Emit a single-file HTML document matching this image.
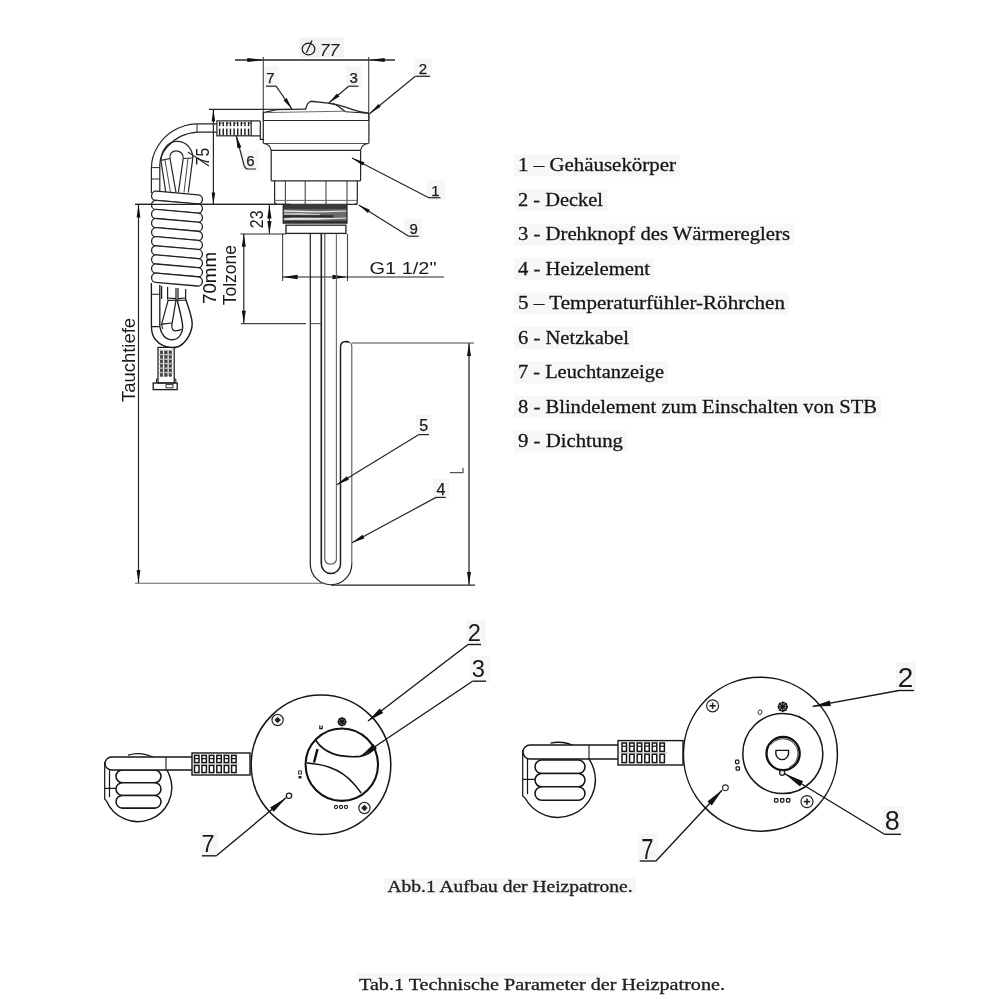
<!DOCTYPE html>
<html><head><meta charset="utf-8"><title>Heizpatrone</title>
<style>
html,body{margin:0;padding:0;background:#fff;}
body{width:1000px;height:1000px;overflow:hidden;font-family:"Liberation Sans",sans-serif;}
svg{display:block;filter:grayscale(1);}
</style></head><body>
<svg width="1000" height="1000" viewBox="0 0 1000 1000">
<rect width="1000" height="1000" fill="#ffffff"/>
<rect x="263" y="66" width="16" height="22" fill="#f6f6f6"/>
<rect x="346" y="66" width="16" height="22" fill="#f6f6f6"/>
<rect x="414" y="58" width="18" height="20" fill="#f6f6f6"/>
<rect x="427" y="180" width="18" height="20" fill="#f6f6f6"/>
<rect x="404" y="219" width="18" height="20" fill="#f6f6f6"/>
<rect x="242" y="150" width="17" height="21" fill="#f6f6f6"/>
<rect x="416" y="415" width="16" height="21" fill="#f6f6f6"/>
<rect x="433" y="479" width="16" height="20" fill="#f6f6f6"/>
<rect x="466" y="620" width="20" height="26" fill="#f6f6f6"/>
<rect x="470" y="656" width="20" height="26" fill="#f6f6f6"/>
<rect x="200" y="832" width="18" height="26" fill="#f6f6f6"/>
<rect x="896" y="662" width="20" height="30" fill="#f6f6f6"/>
<rect x="882" y="806" width="22" height="30" fill="#f6f6f6"/>
<rect x="638" y="834" width="20" height="28" fill="#f6f6f6"/>
<rect x="299.5" y="37.5" width="44.5" height="20" fill="#f2f2f2"/>
<line x1="235" y1="60" x2="395" y2="60" stroke="#262626" stroke-width="1.34" />
<polygon points="263.30,60.00 247.30,62.00 247.30,58.00" fill="#111"/>
<polygon points="368.70,60.00 384.70,58.00 384.70,62.00" fill="#111"/>
<line x1="263.3" y1="57" x2="263.3" y2="121" stroke="#444" stroke-width="1.1" />
<line x1="368.7" y1="57" x2="368.7" y2="121" stroke="#444" stroke-width="1.1" />
<text x="329.5" y="55.5" font-family="Liberation Sans, sans-serif" font-size="17.4" text-anchor="middle" font-weight="normal" fill="#1a1a1a" font-style="italic">77</text>
<g stroke="#1a1a1a" stroke-width="1.2" fill="none"><ellipse cx="308.5" cy="49" rx="6.3" ry="5.9"/><line x1="306.3" y1="53" x2="312" y2="40.5"/></g>
<path d="M209,109.4 L292,109.3" stroke="#262626" stroke-width="1.1" fill="none" />
<path d="M263.3,112.6 C268,112 272,110.2 278,109.7 L306,109.2" stroke="#262626" stroke-width="1.22" fill="none" />
<path d="M265.5,112.6 L344,111.2" stroke="#666" stroke-width="0.98" fill="none" />
<path d="M305.7,109.2 C306.5,105 308.5,102 311,101.3 L328.4,103.1 C333,103.6 336,104.6 338,106 L345.5,111.8" stroke="#262626" stroke-width="1.34" fill="none" />
<path d="M328.4,103.1 C338,104.5 346,107 353.6,109.8 C358,111.5 363,112.6 368.7,113.2" stroke="#262626" stroke-width="1.34" fill="none" />
<path d="M345.5,111.8 L368.7,113.2" stroke="#262626" stroke-width="1.1" fill="none" />
<line x1="263.3" y1="120.5" x2="368.7" y2="120.5" stroke="#262626" stroke-width="1.22" />
<path d="M263.3,112.6 L263.3,143.5 M368.9,113 L368.9,143.5" stroke="#262626" stroke-width="1.22" fill="none" />
<path d="M263.3,143.5 L368.9,143.5" stroke="#555" stroke-width="1.1" fill="none" />
<path d="M264,143.5 C268,144 270.5,146 271.2,150.3 M368,143.5 C364,144 361.3,146 360.6,150.3" stroke="#262626" stroke-width="1.22" fill="none" />
<line x1="271.2" y1="150.3" x2="360.6" y2="150.3" stroke="#262626" stroke-width="1.22" />
<path d="M271.2,150.3 L271.2,180.8 M360.6,150.3 L360.6,180.8" stroke="#262626" stroke-width="1.22" fill="none" />
<line x1="271.2" y1="180.8" x2="360.6" y2="180.8" stroke="#262626" stroke-width="1.22" />
<path d="M274.6,180.8 L274.6,202 C274.6,203.5 275.5,204.3 277,204.3 M357.3,180.8 L357.3,202 C357.3,203.5 356.4,204.3 355,204.3" stroke="#262626" stroke-width="1.22" fill="none" />
<line x1="285.4" y1="180.8" x2="285.4" y2="204.3" stroke="#444" stroke-width="1.1" />
<line x1="305.2" y1="180.8" x2="305.2" y2="204.3" stroke="#444" stroke-width="1.1" />
<line x1="326" y1="180.8" x2="326" y2="204.3" stroke="#444" stroke-width="1.1" />
<line x1="347" y1="180.8" x2="347" y2="204.3" stroke="#444" stroke-width="1.1" />
<line x1="274.6" y1="200.4" x2="357.3" y2="200.4" stroke="#666" stroke-width="0.98" />
<line x1="135" y1="204.4" x2="357.3" y2="204.4" stroke="#262626" stroke-width="1.22" />
<rect x="283.2" y="204.6" width="63.8" height="19" fill="#6a6a6a"/>
<rect x="283.2" y="204.6" width="63.8" height="4.6" fill="#3a3a3a"/>
<polygon points="283.5,210.2 318,211.3 347,210.4 347,211.6 318,212.6 283.5,211.8" fill="#e8e8e8"/>
<polygon points="283.5,213.2 300,213.2 320,214.2 320,215 283.5,214.6" fill="#dcdcdc"/>
<rect x="283.2" y="215.2" width="50" height="2.2" fill="#2c2c2c"/>
<polygon points="283.5,218.4 292,217.8 333,218 347,217.6 347,218.6 318,219.8 283.5,220" fill="#e4e4e4"/>
<rect x="283.2" y="220.8" width="63.8" height="2.8" fill="#303030"/>
<path d="M283.2,204.4 L283.2,223.7 M347,204.4 L347,223.7" stroke="#262626" stroke-width="1.22" fill="none" />
<rect x="286" y="225.2" width="59.9" height="8.2" rx="0" stroke="#262626" stroke-width="1.34" fill="none" />
<line x1="282.6" y1="233.8" x2="282.6" y2="281" stroke="#444" stroke-width="1.1" />
<line x1="347.5" y1="233.8" x2="347.5" y2="281" stroke="#444" stroke-width="1.1" />
<line x1="282.6" y1="277" x2="444" y2="277" stroke="#262626" stroke-width="1.22" />
<polygon points="282.60,277.00 297.60,274.80 297.60,279.20" fill="#111"/>
<polygon points="347.50,277.00 332.50,279.20 332.50,274.80" fill="#111"/>
<text x="369.5" y="273.8" font-family="Liberation Sans, sans-serif" font-size="17.2" text-anchor="start" font-weight="normal" fill="#1a1a1a" textLength="67" lengthAdjust="spacingAndGlyphs">G1 1/2"</text>
<line x1="310.3" y1="233.8" x2="310.3" y2="564" stroke="#222" stroke-width="1.22" />
<line x1="321.3" y1="233.8" x2="321.3" y2="564" stroke="#1c1c1c" stroke-width="1.59" />
<line x1="324.8" y1="233.8" x2="324.8" y2="559" stroke="#5a4a44" stroke-width="1.1" />
<line x1="336.4" y1="233.8" x2="336.4" y2="559" stroke="#666" stroke-width="1.1" />
<path d="M340.5,564 L340.5,347 C340.5,343 342.5,341.5 346,341.5 L349,341.8" stroke="#1c1c1c" stroke-width="1.46" fill="none" />
<path d="M346.5,342.3 C350,341.8 351.8,343 351.8,346 L351.8,564" stroke="#555" stroke-width="1.1" fill="none" />
<path d="M310.3,564 A20.75,20.75 0 0 0 351.8,564" stroke="#222" stroke-width="1.22" fill="none" />
<path d="M321.3,564 A9.6,9.6 0 0 0 340.5,564" stroke="#1c1c1c" stroke-width="1.46" fill="none" />
<path d="M324.8,559 A5,5 0 0 0 329.8,564 L331.4,564 A5,5 0 0 0 336.4,559" stroke="#444" stroke-width="1.1" fill="none" />
<line x1="352" y1="343" x2="474" y2="343" stroke="#444" stroke-width="1.1" />
<line x1="135" y1="583.2" x2="326" y2="583.2" stroke="#666" stroke-width="1.1" />
<line x1="331" y1="585.2" x2="475" y2="585.2" stroke="#262626" stroke-width="1.34" />
<line x1="469" y1="343" x2="469" y2="585" stroke="#5a4c48" stroke-width="1.59" />
<polygon points="469.00,343.00 471.00,356.00 467.00,356.00" fill="#111"/>
<polygon points="469.00,585.00 467.00,572.00 471.00,572.00" fill="#111"/>
<path d="M449.8,472.6 L463,472.6 L463,467.8" stroke="#555" stroke-width="1.22" fill="none" />
<line x1="138.5" y1="204.4" x2="138.5" y2="583" stroke="#262626" stroke-width="1.22" />
<polygon points="138.50,204.40 140.40,217.40 136.60,217.40" fill="#111"/>
<polygon points="138.50,583.00 136.60,570.00 140.40,570.00" fill="#111"/>
<text transform="translate(135,402) rotate(-90)" font-family="Liberation Sans, sans-serif" font-size="18.6" fill="#1a1a1a" textLength="84" lengthAdjust="spacingAndGlyphs">Tauchtiefe</text>
<line x1="213.4" y1="109.4" x2="213.4" y2="204.4" stroke="#262626" stroke-width="1.22" />
<polygon points="213.40,109.40 215.20,121.40 211.60,121.40" fill="#111"/>
<polygon points="213.40,204.40 211.60,192.40 215.20,192.40" fill="#111"/>
<text transform="translate(209,165.2) rotate(-90)" font-family="Liberation Sans, sans-serif" font-size="17.5" fill="#1a1a1a" textLength="17.4" lengthAdjust="spacingAndGlyphs">75</text>
<line x1="269.4" y1="204.4" x2="269.4" y2="233.7" stroke="#262626" stroke-width="1.22" />
<polygon points="269.40,205.00 271.50,218.60 267.30,218.60" fill="#111"/>
<polygon points="269.40,233.60 267.30,221.10 271.50,221.10" fill="#111"/>
<line x1="240.5" y1="234" x2="286" y2="234" stroke="#262626" stroke-width="1.22" />
<text transform="translate(262.6,228.2) rotate(-90)" font-family="Liberation Sans, sans-serif" font-size="18.5" fill="#1a1a1a" textLength="17.8" lengthAdjust="spacingAndGlyphs">23</text>
<line x1="243.8" y1="234" x2="243.8" y2="323.5" stroke="#262626" stroke-width="1.22" />
<polygon points="243.80,234.00 245.80,246.80 241.80,246.80" fill="#111"/>
<polygon points="243.80,323.30 241.80,310.70 245.80,310.70" fill="#111"/>
<line x1="241" y1="323.6" x2="306" y2="323.6" stroke="#444" stroke-width="1.1" />
<line x1="310.5" y1="323.6" x2="321" y2="323.6" stroke="#555" stroke-width="1.1" />
<text transform="translate(236.3,305.3) rotate(-90)" font-family="Liberation Sans, sans-serif" font-size="18" fill="#1a1a1a" textLength="60.4" lengthAdjust="spacingAndGlyphs">Tolzone</text>
<text transform="translate(215.8,304) rotate(-90)" font-family="Liberation Sans, sans-serif" font-size="19" fill="#151515" stroke="#151515" stroke-width="0.12" textLength="52" lengthAdjust="spacingAndGlyphs">70mm</text>
<rect x="216.9" y="120.9" width="34.3" height="14.9" rx="0" stroke="#262626" stroke-width="1.22" fill="none" />
<line x1="219.6" y1="122" x2="219.6" y2="126.2" stroke="#1a1a1a" stroke-width="1.4" />
<line x1="219.6" y1="128.6" x2="219.6" y2="135.2" stroke="#1a1a1a" stroke-width="1.4" />
<line x1="219.6" y1="123.2" x2="222.0" y2="123.2" stroke="#333" stroke-width="0.98" />
<line x1="223.22" y1="122" x2="223.22" y2="126.2" stroke="#1a1a1a" stroke-width="1.4" />
<line x1="223.22" y1="128.6" x2="223.22" y2="135.2" stroke="#1a1a1a" stroke-width="1.4" />
<line x1="226.84" y1="122" x2="226.84" y2="126.2" stroke="#1a1a1a" stroke-width="1.4" />
<line x1="226.84" y1="128.6" x2="226.84" y2="135.2" stroke="#1a1a1a" stroke-width="1.4" />
<line x1="226.84" y1="123.2" x2="229.24" y2="123.2" stroke="#333" stroke-width="0.98" />
<line x1="230.45999999999998" y1="122" x2="230.45999999999998" y2="126.2" stroke="#1a1a1a" stroke-width="1.4" />
<line x1="230.45999999999998" y1="128.6" x2="230.45999999999998" y2="135.2" stroke="#1a1a1a" stroke-width="1.4" />
<line x1="234.07999999999998" y1="122" x2="234.07999999999998" y2="126.2" stroke="#1a1a1a" stroke-width="1.4" />
<line x1="234.07999999999998" y1="128.6" x2="234.07999999999998" y2="135.2" stroke="#1a1a1a" stroke-width="1.4" />
<line x1="234.07999999999998" y1="123.2" x2="236.48" y2="123.2" stroke="#333" stroke-width="0.98" />
<line x1="237.7" y1="122" x2="237.7" y2="126.2" stroke="#1a1a1a" stroke-width="1.4" />
<line x1="237.7" y1="128.6" x2="237.7" y2="135.2" stroke="#1a1a1a" stroke-width="1.4" />
<line x1="241.32" y1="122" x2="241.32" y2="126.2" stroke="#1a1a1a" stroke-width="1.4" />
<line x1="241.32" y1="128.6" x2="241.32" y2="135.2" stroke="#1a1a1a" stroke-width="1.4" />
<line x1="241.32" y1="123.2" x2="243.72" y2="123.2" stroke="#333" stroke-width="0.98" />
<line x1="244.94" y1="122" x2="244.94" y2="126.2" stroke="#1a1a1a" stroke-width="1.4" />
<line x1="244.94" y1="128.6" x2="244.94" y2="135.2" stroke="#1a1a1a" stroke-width="1.4" />
<line x1="248.56" y1="122" x2="248.56" y2="126.2" stroke="#1a1a1a" stroke-width="1.4" />
<line x1="248.56" y1="128.6" x2="248.56" y2="135.2" stroke="#1a1a1a" stroke-width="1.4" />
<line x1="248.56" y1="123.2" x2="250.96" y2="123.2" stroke="#333" stroke-width="0.98" />
<path d="M251.2,120.9 L260.3,120.9 M251.2,135.8 L260.3,135.8 M260.3,120.9 L260.3,139.3 L263.3,139.3" stroke="#262626" stroke-width="1.22" fill="none" />
<path d="M216.8,123.8 L196.4,123.8 C180,124.5 166,133 158,146 C153,154 151.4,160 151.4,168 L151.4,193" stroke="#262626" stroke-width="1.22" fill="none" />
<path d="M216.8,132.2 L197.6,132.2 C185,133 174,139 167,147 C162,153 159.8,158 159.8,165 L159.8,192" stroke="#262626" stroke-width="1.22" fill="none" />
<line x1="197" y1="123.8" x2="197" y2="132.2" stroke="#262626" stroke-width="0.98" />
<line x1="151.4" y1="167.6" x2="159.8" y2="167.6" stroke="#262626" stroke-width="0.98" />
<line x1="151.4" y1="179" x2="159.8" y2="179" stroke="#262626" stroke-width="0.98" />
<path d="M165.8,192.5 L161,161 C161,150 168,141.4 177.2,141.4 C187,141.4 192.8,150 192.8,158 L188.3,192.5" stroke="#262626" stroke-width="1.22" fill="none" />
<path d="M176,192.5 L170,158.5 C169.5,154 172,150.8 176,150.8 C180.5,150.8 183.5,154 183.2,158.5 L178.4,192.5" stroke="#262626" stroke-width="1.22" fill="none" />
<path d="M161,160.4 L170,158.5 M183.2,158.5 L192.8,158" stroke="#262626" stroke-width="1.1" fill="none" />
<path d="M170.5,192.5 L165,160 M184,192.5 L188,158.5" stroke="#444" stroke-width="0.98" fill="none" />
<line x1="188" y1="152" x2="209" y2="166" stroke="#262626" stroke-width="1.1" />
<rect x="151.5" y="193.0" width="51" height="9.3" rx="4.6" fill="#fff" stroke="#222" stroke-width="1.3" transform="rotate(5 177 197.6)"/>
<rect x="151.5" y="202.1" width="51" height="9.3" rx="4.6" fill="#fff" stroke="#222" stroke-width="1.3" transform="rotate(5 177 206.7)"/>
<rect x="151.5" y="211.2" width="51" height="9.3" rx="4.6" fill="#fff" stroke="#222" stroke-width="1.3" transform="rotate(5 177 215.8)"/>
<rect x="151.5" y="220.3" width="51" height="9.3" rx="4.6" fill="#fff" stroke="#222" stroke-width="1.3" transform="rotate(5 177 224.9)"/>
<rect x="151.5" y="229.4" width="51" height="9.3" rx="4.6" fill="#fff" stroke="#222" stroke-width="1.3" transform="rotate(5 177 234.0)"/>
<rect x="151.5" y="238.5" width="51" height="9.3" rx="4.6" fill="#fff" stroke="#222" stroke-width="1.3" transform="rotate(5 177 243.1)"/>
<rect x="151.5" y="247.6" width="51" height="9.3" rx="4.6" fill="#fff" stroke="#222" stroke-width="1.3" transform="rotate(5 177 252.2)"/>
<rect x="151.5" y="256.7" width="51" height="9.3" rx="4.6" fill="#fff" stroke="#222" stroke-width="1.3" transform="rotate(5 177 261.3)"/>
<rect x="151.5" y="265.8" width="51" height="9.3" rx="4.6" fill="#fff" stroke="#222" stroke-width="1.3" transform="rotate(5 177 270.4)"/>
<rect x="151.5" y="274.9" width="51" height="9.3" rx="4.6" fill="#fff" stroke="#222" stroke-width="1.3" transform="rotate(5 177 279.5)"/>
<line x1="135" y1="204.4" x2="290" y2="204.4" stroke="#262626" stroke-width="1.22" />
<path d="M151.4,283 L151.4,326.6 M159.8,285 L159.8,326.6" stroke="#1c1c1c" stroke-width="1.34" fill="none" />
<path d="M151.4,294.2 L159.8,294.2 M151.4,326.6 L159.8,326.6" stroke="#1c1c1c" stroke-width="1.1" fill="none" />
<path d="M161.6,286 L161.6,299 M167.6,287 L167.6,299.5 M176,288 L176,300 M178,288 L178,300 M185.6,289 L185.6,299" stroke="#1c1c1c" stroke-width="1.22" fill="none" />
<path d="M167.6,298 L176,298.6 M178,298.6 L185.6,298 M167.6,300.4 L186,300.2" stroke="#1c1c1c" stroke-width="1.1" fill="none" />
<path d="M151.4,326.6 C151.6,333 153,337 155.6,339.8 C160,345 166,347.6 172.4,347.6 C181,347.6 187,340.5 190.4,332.6 C191.8,329 192.4,326 192.2,323 C191.5,315 188,306 185.6,299" stroke="#1c1c1c" stroke-width="1.4" fill="none" />
<path d="M159.8,326.6 C160.5,331 162,334 164,336.2 C166.5,338.8 169,339.8 172.4,339.8 C177,339.8 180.5,336 182,331.4 C182.7,329 182.8,327 182.6,325.4 C181.6,317 179,308 177.2,300.2" stroke="#1c1c1c" stroke-width="1.4" fill="none" />
<path d="M176,300.2 L171.8,325.4 C171.8,328.5 173,330.8 175.4,330.8 C177.5,330.8 179.6,330.4 181.6,329.4" stroke="#1c1c1c" stroke-width="1.22" fill="none" />
<path d="M168.2,300.2 L161.6,324.2 L171.8,323" stroke="#1c1c1c" stroke-width="1.22" fill="none" />
<path d="M161.6,324.2 C161.8,326 162.3,327.6 163,329" stroke="#1c1c1c" stroke-width="1.1" fill="none" />
<rect x="158" y="347.4" width="16.2" height="35.6" rx="0" stroke="#1c1c1c" stroke-width="1.22" fill="none" />
<rect x="160.2" y="351.0" width="2.6" height="2.8" fill="#444" stroke="#333" stroke-width="0.5"/>
<rect x="164.6" y="351.0" width="2.6" height="2.8" fill="#444" stroke="#333" stroke-width="0.5"/>
<rect x="169.0" y="351.0" width="2.6" height="2.8" fill="#444" stroke="#333" stroke-width="0.5"/>
<line x1="159" y1="350.2" x2="173" y2="350.2" stroke="#888" stroke-width="0.61" />
<rect x="160.2" y="355.5" width="2.6" height="2.8" fill="#444" stroke="#333" stroke-width="0.5"/>
<rect x="164.6" y="355.5" width="2.6" height="2.8" fill="#444" stroke="#333" stroke-width="0.5"/>
<rect x="169.0" y="355.5" width="2.6" height="2.8" fill="#444" stroke="#333" stroke-width="0.5"/>
<line x1="159" y1="354.7" x2="173" y2="354.7" stroke="#888" stroke-width="0.61" />
<rect x="160.2" y="360.0" width="2.6" height="2.8" fill="#444" stroke="#333" stroke-width="0.5"/>
<rect x="164.6" y="360.0" width="2.6" height="2.8" fill="#444" stroke="#333" stroke-width="0.5"/>
<rect x="169.0" y="360.0" width="2.6" height="2.8" fill="#444" stroke="#333" stroke-width="0.5"/>
<line x1="159" y1="359.2" x2="173" y2="359.2" stroke="#888" stroke-width="0.61" />
<rect x="160.2" y="364.5" width="2.6" height="2.8" fill="#444" stroke="#333" stroke-width="0.5"/>
<rect x="164.6" y="364.5" width="2.6" height="2.8" fill="#444" stroke="#333" stroke-width="0.5"/>
<rect x="169.0" y="364.5" width="2.6" height="2.8" fill="#444" stroke="#333" stroke-width="0.5"/>
<line x1="159" y1="363.7" x2="173" y2="363.7" stroke="#888" stroke-width="0.61" />
<rect x="160.2" y="369.0" width="2.6" height="2.8" fill="#444" stroke="#333" stroke-width="0.5"/>
<rect x="164.6" y="369.0" width="2.6" height="2.8" fill="#444" stroke="#333" stroke-width="0.5"/>
<rect x="169.0" y="369.0" width="2.6" height="2.8" fill="#444" stroke="#333" stroke-width="0.5"/>
<line x1="159" y1="368.2" x2="173" y2="368.2" stroke="#888" stroke-width="0.61" />
<rect x="160.2" y="373.5" width="2.6" height="2.8" fill="#444" stroke="#333" stroke-width="0.5"/>
<rect x="164.6" y="373.5" width="2.6" height="2.8" fill="#444" stroke="#333" stroke-width="0.5"/>
<rect x="169.0" y="373.5" width="2.6" height="2.8" fill="#444" stroke="#333" stroke-width="0.5"/>
<line x1="159" y1="372.7" x2="173" y2="372.7" stroke="#888" stroke-width="0.61" />
<path d="M156.5,383 L156.5,379 L158,379 M175.8,383 L175.8,379 L174.2,379" stroke="#1c1c1c" stroke-width="0.98" fill="none" />
<rect x="153.2" y="383" width="24" height="6.6" rx="0" stroke="#1c1c1c" stroke-width="1.34" fill="none" />
<rect x="166" y="384.6" width="7" height="3.2" rx="0" stroke="#333" stroke-width="0.98" fill="none" />
<text x="270.3" y="83" font-family="Liberation Sans, sans-serif" font-size="15" text-anchor="middle" font-weight="normal" fill="#1a1a1a" stroke="#1a1a1a" stroke-width="0.25">7</text>
<line x1="266" y1="86.2" x2="276" y2="86.2" stroke="#262626" stroke-width="1.22" />
<line x1="276" y1="86.2" x2="292" y2="109" stroke="#262626" stroke-width="1.22" />
<polygon points="292.00,109.00 283.47,100.33 286.74,98.03" fill="#111"/>
<text x="353.6" y="83" font-family="Liberation Sans, sans-serif" font-size="15" text-anchor="middle" font-weight="normal" fill="#1a1a1a" stroke="#1a1a1a" stroke-width="0.25">3</text>
<line x1="348.7" y1="86.2" x2="358.5" y2="86.2" stroke="#262626" stroke-width="1.22" />
<line x1="348.7" y1="86.2" x2="329" y2="102.7" stroke="#262626" stroke-width="1.22" />
<polygon points="329.00,102.70 336.92,93.46 339.48,96.53" fill="#111"/>
<text x="423" y="74" font-family="Liberation Sans, sans-serif" font-size="15" text-anchor="middle" font-weight="normal" fill="#1a1a1a" stroke="#1a1a1a" stroke-width="0.25">2</text>
<line x1="415.3" y1="76.3" x2="430" y2="76.3" stroke="#262626" stroke-width="1.22" />
<line x1="415.3" y1="76.3" x2="369.5" y2="113.7" stroke="#262626" stroke-width="1.22" />
<polygon points="369.50,113.70 378.43,104.08 380.71,106.87" fill="#111"/>
<text x="435.3" y="195.5" font-family="Liberation Sans, sans-serif" font-size="15" text-anchor="middle" font-weight="normal" fill="#1a1a1a" stroke="#1a1a1a" stroke-width="0.25">1</text>
<line x1="428.8" y1="197.7" x2="440.5" y2="197.7" stroke="#262626" stroke-width="1.22" />
<line x1="428.8" y1="197.7" x2="352" y2="158" stroke="#262626" stroke-width="1.22" />
<polygon points="352.00,158.00 364.37,162.37 362.72,165.57" fill="#111"/>
<text x="413.7" y="233.5" font-family="Liberation Sans, sans-serif" font-size="15" text-anchor="middle" font-weight="normal" fill="#1a1a1a" stroke="#1a1a1a" stroke-width="0.25">9</text>
<line x1="408.7" y1="236.2" x2="418.7" y2="236.2" stroke="#262626" stroke-width="1.22" />
<line x1="408.7" y1="236.2" x2="358.7" y2="205" stroke="#262626" stroke-width="1.22" />
<polygon points="358.70,205.00 369.83,209.83 367.93,212.88" fill="#111"/>
<text x="250.4" y="166" font-family="Liberation Sans, sans-serif" font-size="15" text-anchor="middle" font-weight="normal" fill="#1a1a1a" stroke="#1a1a1a" stroke-width="0.25">6</text>
<path d="M256,169 L248,169 C245.5,169 244.6,167 244,165 L236.3,136" stroke="#262626" stroke-width="1.22" fill="none" />
<polygon points="236.20,135.80 241.40,147.14 237.34,148.23" fill="#111"/>
<text x="423.7" y="430.8" font-family="Liberation Sans, sans-serif" font-size="16" text-anchor="middle" font-weight="normal" fill="#1a1a1a" stroke="#1a1a1a" stroke-width="0.25">5</text>
<line x1="419" y1="434.6" x2="429" y2="434.6" stroke="#262626" stroke-width="1.22" />
<line x1="419" y1="434.6" x2="336.8" y2="484.8" stroke="#262626" stroke-width="1.22" />
<polygon points="336.80,484.80 346.85,476.32 348.94,479.73" fill="#111"/>
<text x="441" y="494.8" font-family="Liberation Sans, sans-serif" font-size="16" text-anchor="middle" font-weight="normal" fill="#1a1a1a" stroke="#1a1a1a" stroke-width="0.25">4</text>
<line x1="436" y1="497.4" x2="445.6" y2="497.4" stroke="#262626" stroke-width="1.22" />
<line x1="436" y1="497.4" x2="352" y2="542.8" stroke="#262626" stroke-width="1.22" />
<polygon points="352.00,542.80 362.49,534.86 364.39,538.38" fill="#111"/>
<rect x="514" y="154.4" width="166" height="22" fill="#f7f7f7"/>
<text x="518" y="171.4" font-family="Liberation Serif, serif" font-size="19.5" fill="#151515" stroke="#151515" stroke-width="0.28" textLength="158" lengthAdjust="spacingAndGlyphs">1 – Gehäusekörper</text>
<rect x="514" y="188.9" width="93" height="22" fill="#f7f7f7"/>
<text x="518" y="205.9" font-family="Liberation Serif, serif" font-size="19.5" fill="#151515" stroke="#151515" stroke-width="0.28" textLength="85" lengthAdjust="spacingAndGlyphs">2 - Deckel</text>
<rect x="514" y="223.4" width="280" height="22" fill="#f7f7f7"/>
<text x="518" y="240.4" font-family="Liberation Serif, serif" font-size="19.5" fill="#151515" stroke="#151515" stroke-width="0.28" textLength="272" lengthAdjust="spacingAndGlyphs">3 - Drehknopf des Wärmereglers</text>
<rect x="514" y="257.9" width="140" height="22" fill="#f7f7f7"/>
<text x="518" y="274.9" font-family="Liberation Serif, serif" font-size="19.5" fill="#151515" stroke="#151515" stroke-width="0.28" textLength="132" lengthAdjust="spacingAndGlyphs">4 - Heizelement</text>
<rect x="514" y="292.4" width="275" height="22" fill="#f7f7f7"/>
<text x="518" y="309.4" font-family="Liberation Serif, serif" font-size="19.5" fill="#151515" stroke="#151515" stroke-width="0.28" textLength="267" lengthAdjust="spacingAndGlyphs">5 – Temperaturfühler-Röhrchen</text>
<rect x="514" y="326.9" width="119" height="22" fill="#f7f7f7"/>
<text x="518" y="343.9" font-family="Liberation Serif, serif" font-size="19.5" fill="#151515" stroke="#151515" stroke-width="0.28" textLength="111" lengthAdjust="spacingAndGlyphs">6 - Netzkabel</text>
<rect x="514" y="361.4" width="154" height="22" fill="#f7f7f7"/>
<text x="518" y="378.4" font-family="Liberation Serif, serif" font-size="19.5" fill="#151515" stroke="#151515" stroke-width="0.28" textLength="146" lengthAdjust="spacingAndGlyphs">7 - Leuchtanzeige</text>
<rect x="514" y="395.9" width="367" height="22" fill="#f7f7f7"/>
<text x="518" y="412.9" font-family="Liberation Serif, serif" font-size="19.5" fill="#151515" stroke="#151515" stroke-width="0.28" textLength="359" lengthAdjust="spacingAndGlyphs">8 - Blindelement zum Einschalten von STB</text>
<rect x="514" y="430.4" width="113" height="22" fill="#f7f7f7"/>
<text x="518" y="447.4" font-family="Liberation Serif, serif" font-size="19.5" fill="#151515" stroke="#151515" stroke-width="0.28" textLength="105" lengthAdjust="spacingAndGlyphs">9 - Dichtung</text>
<rect x="384" y="878" width="252" height="16" fill="#f6f6f6"/>
<rect x="357" y="973" width="250" height="8" fill="#f8f8f8"/>
<text x="387.5" y="891.5" font-family="Liberation Serif, serif" font-size="16.2" fill="#222" stroke="#222" stroke-width="0.3" textLength="245" lengthAdjust="spacingAndGlyphs">Abb.1 Aufbau der Heizpatrone.</text>
<text x="359" y="990" font-family="Liberation Serif, serif" font-size="16.2" fill="#222" stroke="#222" stroke-width="0.3" textLength="366" lengthAdjust="spacingAndGlyphs">Tab.1 Technische Parameter der Heizpatrone.</text>
<path d="M128.0,755.1 A34,34 0 1 1 106.5,801" stroke="#161616" stroke-width="1.4" fill="none" />
<rect x="116" y="770.0" width="45" height="12.7" rx="6.35" fill="#fff" stroke="#161616" stroke-width="1.55"/>
<rect x="116" y="782.7" width="45" height="12.7" rx="6.35" fill="#fff" stroke="#161616" stroke-width="1.55"/>
<rect x="116" y="795.4" width="45" height="12.7" rx="6.35" fill="#fff" stroke="#161616" stroke-width="1.55"/>
<path d="M192,757 L111.5,757 A6.5,6.5 0 0 0 111.5,770 L192,770" stroke="#161616" stroke-width="1.4" fill="#fff" />
<line x1="166" y1="757" x2="166" y2="770" stroke="#161616" stroke-width="1.1" />
<path d="M104.7,762 L104.7,799 L106.5,801 M109.5,769 L109.5,797 M104.7,788.4 L116,788.4" stroke="#161616" stroke-width="1.22" fill="none" />
<rect x="192" y="753" width="58" height="22" rx="0" stroke="#161616" stroke-width="1.4" fill="#fff" />
<rect x="194.5" y="755.4" width="4.5" height="7.2" fill="none" stroke="#161616" stroke-width="1.5"/>
<rect x="194.5" y="765.4" width="4.5" height="7.2" fill="none" stroke="#161616" stroke-width="1.5"/>
<line x1="194.5" y1="758.6" x2="198.9" y2="758.6" stroke="#161616" stroke-width="1.2"/>
<rect x="201.9" y="755.4" width="4.5" height="7.2" fill="none" stroke="#161616" stroke-width="1.5"/>
<rect x="201.9" y="765.4" width="4.5" height="7.2" fill="none" stroke="#161616" stroke-width="1.5"/>
<line x1="201.9" y1="758.6" x2="206.4" y2="758.6" stroke="#161616" stroke-width="1.2"/>
<rect x="209.3" y="755.4" width="4.5" height="7.2" fill="none" stroke="#161616" stroke-width="1.5"/>
<rect x="209.3" y="765.4" width="4.5" height="7.2" fill="none" stroke="#161616" stroke-width="1.5"/>
<line x1="209.3" y1="758.6" x2="213.8" y2="758.6" stroke="#161616" stroke-width="1.2"/>
<rect x="216.8" y="755.4" width="4.5" height="7.2" fill="none" stroke="#161616" stroke-width="1.5"/>
<rect x="216.8" y="765.4" width="4.5" height="7.2" fill="none" stroke="#161616" stroke-width="1.5"/>
<line x1="216.8" y1="758.6" x2="221.2" y2="758.6" stroke="#161616" stroke-width="1.2"/>
<rect x="224.2" y="755.4" width="4.5" height="7.2" fill="none" stroke="#161616" stroke-width="1.5"/>
<rect x="224.2" y="765.4" width="4.5" height="7.2" fill="none" stroke="#161616" stroke-width="1.5"/>
<line x1="224.2" y1="758.6" x2="228.6" y2="758.6" stroke="#161616" stroke-width="1.2"/>
<rect x="231.6" y="755.4" width="4.5" height="7.2" fill="none" stroke="#161616" stroke-width="1.5"/>
<rect x="231.6" y="765.4" width="4.5" height="7.2" fill="none" stroke="#161616" stroke-width="1.5"/>
<line x1="231.6" y1="758.6" x2="236.0" y2="758.6" stroke="#161616" stroke-width="1.2"/>
<line x1="192" y1="764.0" x2="239" y2="764.0" stroke="#999" stroke-width="0.61" />
<circle cx="321" cy="764.7" r="69.8" stroke="#161616" stroke-width="1.52" fill="none"/>
<circle cx="341.8" cy="764.7" r="36.2" stroke="#111" stroke-width="2.07" fill="none"/>
<path d="M315.6,740 C318,744 321,747 324,749 C329,752.5 334,754.5 340,755.6 C347,756.8 354,757 360,756.4 C366,755.4 372,752 376,747" stroke="#111" stroke-width="1.59" fill="none" />
<path d="M307,763 C314,763.5 322,764.5 330,767.5 C340,771 348,777 354,784 C357,787.5 359.5,790.5 361,793" stroke="#111" stroke-width="1.46" fill="none" />
<line x1="317.5" y1="749" x2="314" y2="762.5" stroke="#111" stroke-width="2.44" />
<circle cx="277.6" cy="720" r="5.6" stroke="#262626" stroke-width="1.22" fill="none"/>
<rect x="275.3" y="717.7" width="4.6" height="4.6" fill="#222" transform="rotate(45 277.6 720)"/>
<circle cx="364.4" cy="808" r="5.6" stroke="#262626" stroke-width="1.22" fill="none"/>
<rect x="362.09999999999997" y="805.7" width="4.6" height="4.6" fill="#222" transform="rotate(45 364.4 808)"/>
<line x1="337.5" y1="721.8" x2="346.5" y2="721.8" stroke="#161616" stroke-width="1.46" />
<line x1="338.8180194846605" y1="718.6180194846605" x2="345.1819805153395" y2="724.9819805153394" stroke="#161616" stroke-width="1.46" />
<line x1="342.0" y1="717.3" x2="342.0" y2="726.3" stroke="#161616" stroke-width="1.46" />
<line x1="345.1819805153395" y1="718.6180194846605" x2="338.8180194846605" y2="724.9819805153394" stroke="#161616" stroke-width="1.46" />
<circle cx="342" cy="721.8" r="3.6" stroke="#161616" stroke-width="1.46" fill="none"/>
<path d="M319.8,725.6 L319.8,728.6 L322.2,728.6 L322.2,725.6" stroke="#161616" stroke-width="1.22" fill="none" />
<rect x="298.5" y="771" width="3" height="3" fill="none" stroke="#222" stroke-width="0.9"/><rect x="298.5" y="776" width="3" height="2.5" fill="#222"/>
<circle cx="336" cy="807" r="1.6" stroke="#222" stroke-width="1.1" fill="none"/>
<circle cx="341" cy="807" r="1.6" stroke="#222" stroke-width="1.1" fill="none"/>
<circle cx="346" cy="807" r="1.6" stroke="#222" stroke-width="1.1" fill="none"/>
<circle cx="289" cy="795.8" r="2.7" stroke="#161616" stroke-width="1.22" fill="none"/>
<text x="208" y="852.2" font-family="Liberation Sans, sans-serif" font-size="23.5" text-anchor="middle" font-weight="normal" fill="#1a1a1a" >7</text>
<line x1="202" y1="855.8" x2="216.4" y2="855.8" stroke="#161616" stroke-width="1.34" />
<line x1="216.4" y1="855.8" x2="286" y2="797.8" stroke="#161616" stroke-width="1.34" />
<polygon points="286.50,797.40 273.69,811.71 270.11,807.41" fill="#111"/>
<text x="474.3" y="640.5" font-family="Liberation Sans, sans-serif" font-size="23.7" text-anchor="middle" font-weight="normal" fill="#1a1a1a" >2</text>
<line x1="468" y1="644.5" x2="481" y2="644.5" stroke="#161616" stroke-width="1.34" />
<line x1="468" y1="644.5" x2="368" y2="721" stroke="#161616" stroke-width="1.34" />
<polygon points="368.00,721.00 379.80,708.45 383.20,712.89" fill="#111"/>
<text x="478.3" y="676.5" font-family="Liberation Sans, sans-serif" font-size="23.7" text-anchor="middle" font-weight="normal" fill="#1a1a1a" >3</text>
<line x1="472.5" y1="681.2" x2="486" y2="681.2" stroke="#161616" stroke-width="1.34" />
<line x1="472.5" y1="681.2" x2="361" y2="756" stroke="#161616" stroke-width="1.34" />
<polygon points="361.00,756.00 373.45,744.04 376.79,749.02" fill="#111"/>
<path d="M550.5,743.1 A37.5,37.5 0 1 1 525,798" stroke="#161616" stroke-width="1.4" fill="none" />
<rect x="535" y="760.0" width="50" height="13.4" rx="6.7" fill="#fff" stroke="#161616" stroke-width="1.55"/>
<rect x="535" y="773.4" width="50" height="13.4" rx="6.7" fill="#fff" stroke="#161616" stroke-width="1.55"/>
<rect x="535" y="786.8" width="50" height="13.4" rx="6.7" fill="#fff" stroke="#161616" stroke-width="1.55"/>
<path d="M618,745 L530.0,745 A7.0,7.0 0 0 0 530.0,759 L618,759" stroke="#161616" stroke-width="1.4" fill="#fff" />
<line x1="589" y1="745" x2="589" y2="759" stroke="#161616" stroke-width="1.1" />
<path d="M522.7,750 L522.7,796 L525,798 M527.5,758 L527.5,794 M522.7,779.4 L535,779.4" stroke="#161616" stroke-width="1.22" fill="none" />
<rect x="618" y="740.6" width="65" height="24.399999999999977" rx="0" stroke="#161616" stroke-width="1.4" fill="#fff" />
<rect x="622.0" y="743.0" width="4.5" height="8.4" fill="none" stroke="#161616" stroke-width="1.5"/>
<rect x="622.0" y="754.2" width="4.5" height="8.4" fill="none" stroke="#161616" stroke-width="1.5"/>
<line x1="622.0" y1="746.2" x2="626.5" y2="746.2" stroke="#161616" stroke-width="1.2"/>
<rect x="629.6" y="743.0" width="4.5" height="8.4" fill="none" stroke="#161616" stroke-width="1.5"/>
<rect x="629.6" y="754.2" width="4.5" height="8.4" fill="none" stroke="#161616" stroke-width="1.5"/>
<line x1="629.6" y1="746.2" x2="634.1" y2="746.2" stroke="#161616" stroke-width="1.2"/>
<rect x="637.2" y="743.0" width="4.5" height="8.4" fill="none" stroke="#161616" stroke-width="1.5"/>
<rect x="637.2" y="754.2" width="4.5" height="8.4" fill="none" stroke="#161616" stroke-width="1.5"/>
<line x1="637.2" y1="746.2" x2="641.7" y2="746.2" stroke="#161616" stroke-width="1.2"/>
<rect x="644.8" y="743.0" width="4.5" height="8.4" fill="none" stroke="#161616" stroke-width="1.5"/>
<rect x="644.8" y="754.2" width="4.5" height="8.4" fill="none" stroke="#161616" stroke-width="1.5"/>
<line x1="644.8" y1="746.2" x2="649.3" y2="746.2" stroke="#161616" stroke-width="1.2"/>
<rect x="652.3" y="743.0" width="4.5" height="8.4" fill="none" stroke="#161616" stroke-width="1.5"/>
<rect x="652.3" y="754.2" width="4.5" height="8.4" fill="none" stroke="#161616" stroke-width="1.5"/>
<line x1="652.3" y1="746.2" x2="656.9" y2="746.2" stroke="#161616" stroke-width="1.2"/>
<rect x="659.9" y="743.0" width="4.5" height="8.4" fill="none" stroke="#161616" stroke-width="1.5"/>
<rect x="659.9" y="754.2" width="4.5" height="8.4" fill="none" stroke="#161616" stroke-width="1.5"/>
<line x1="659.9" y1="746.2" x2="664.5" y2="746.2" stroke="#161616" stroke-width="1.2"/>
<line x1="618" y1="752.8" x2="667.5" y2="752.8" stroke="#999" stroke-width="0.61" />
<circle cx="760.4" cy="754.2" r="77" stroke="#161616" stroke-width="1.52" fill="none"/>
<circle cx="782.8" cy="753.6" r="40" stroke="#161616" stroke-width="1.52" fill="none"/>
<circle cx="783.1" cy="753.5" r="16.6" stroke="#111" stroke-width="2.32" fill="none"/>
<path d="M771,744.5 A15.2,15.2 0 0 1 798,752 A15.2,15.2 0 0 1 789,767.5" stroke="#333" stroke-width="0.98" fill="none" />
<path d="M776,750.3 L788.4,750.3 C789.6,756 786,759.6 782.2,759.6 C778.4,759.6 774.8,756 776,750.3 Z" stroke="#161616" stroke-width="1.34" fill="none" />
<circle cx="782.2" cy="772.8" r="2.6" stroke="#222" stroke-width="1.22" fill="#ddd"/>
<circle cx="712.6" cy="705.8" r="6" stroke="#262626" stroke-width="1.22" fill="none"/>
<line x1="709.4" y1="705.8" x2="715.8000000000001" y2="705.8" stroke="#222" stroke-width="1.59" />
<line x1="712.6" y1="702.5999999999999" x2="712.6" y2="709.0" stroke="#222" stroke-width="1.59" />
<circle cx="807" cy="801.6" r="6" stroke="#262626" stroke-width="1.22" fill="none"/>
<line x1="803.8" y1="801.6" x2="810.2" y2="801.6" stroke="#222" stroke-width="1.59" />
<line x1="807" y1="798.4" x2="807" y2="804.8000000000001" stroke="#222" stroke-width="1.59" />
<line x1="777.5999999999999" y1="706.8" x2="788.0" y2="706.8" stroke="#161616" stroke-width="1.46" />
<line x1="779.1230447378299" y1="703.1230447378299" x2="786.47695526217" y2="710.47695526217" stroke="#161616" stroke-width="1.46" />
<line x1="782.8" y1="701.5999999999999" x2="782.8" y2="712.0" stroke="#161616" stroke-width="1.46" />
<line x1="786.47695526217" y1="703.1230447378299" x2="779.1230447378299" y2="710.47695526217" stroke="#161616" stroke-width="1.46" />
<circle cx="782.8" cy="706.8" r="4.16" stroke="#161616" stroke-width="1.46" fill="none"/>
<ellipse cx="760" cy="712.2" rx="1.8" ry="2.4" fill="none" stroke="#222" stroke-width="0.9" transform="rotate(20 760 712.2)"/>
<rect x="735.5" y="760.2" width="3.4" height="3.4" rx="0.8" fill="none" stroke="#161616" stroke-width="1.2"/><rect x="736.1" y="766.8" width="3.4" height="3.4" rx="0.8" fill="none" stroke="#161616" stroke-width="1.2"/>
<rect x="774.5" y="798.7" width="3.4" height="3.4" rx="0.8" fill="none" stroke="#161616" stroke-width="1.2"/>
<rect x="780.5" y="798.7" width="3.4" height="3.4" rx="0.8" fill="none" stroke="#161616" stroke-width="1.2"/>
<rect x="786.5" y="798.7" width="3.4" height="3.4" rx="0.8" fill="none" stroke="#161616" stroke-width="1.2"/>
<circle cx="725.4" cy="787.8" r="2.9" stroke="#333" stroke-width="1.1" fill="none"/>
<text x="647.3" y="858.6" font-family="Liberation Sans, sans-serif" font-size="30" text-anchor="middle" font-weight="normal" fill="#1a1a1a" textLength="12.2" lengthAdjust="spacingAndGlyphs">7</text>
<line x1="639.8" y1="861" x2="656" y2="861" stroke="#161616" stroke-width="1.34" />
<line x1="656" y1="861" x2="722" y2="790.2" stroke="#161616" stroke-width="1.34" />
<polygon points="722.60,789.60 711.83,805.54 707.45,801.45" fill="#111"/>
<text x="892.2" y="830" font-family="Liberation Sans, sans-serif" font-size="27" text-anchor="middle" font-weight="normal" fill="#1a1a1a" >8</text>
<line x1="884.5" y1="834.3" x2="901" y2="834.3" stroke="#161616" stroke-width="1.34" />
<line x1="884.5" y1="834.3" x2="784.5" y2="773.5" stroke="#161616" stroke-width="1.34" />
<polygon points="784.50,773.50 803.15,781.33 800.03,786.45" fill="#111"/>
<text x="905.5" y="687" font-family="Liberation Sans, sans-serif" font-size="28" text-anchor="middle" font-weight="normal" fill="#1a1a1a" >2</text>
<line x1="899" y1="690.5" x2="914" y2="690.5" stroke="#161616" stroke-width="1.34" />
<line x1="899" y1="690.5" x2="812.6" y2="706.4" stroke="#161616" stroke-width="1.34" />
<polygon points="812.60,706.40 829.80,700.39 830.81,705.90" fill="#111"/>
</svg>
</body></html>
